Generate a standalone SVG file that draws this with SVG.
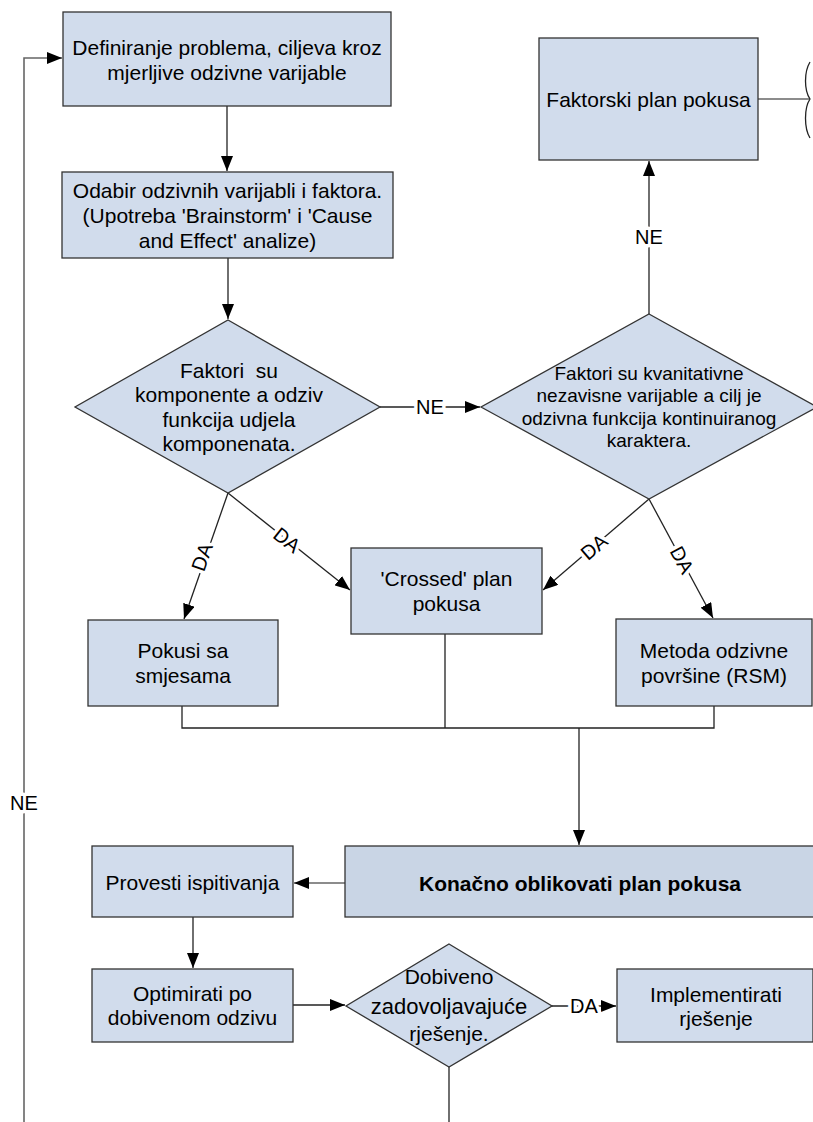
<svg xmlns="http://www.w3.org/2000/svg" width="813" height="1122" viewBox="0 0 813 1122">
<style>
.box{fill:#d1dcec;stroke:#333;stroke-width:1.3}
.dark{fill:#c9d5e5}
.t{font-family:"Liberation Sans",Arial,sans-serif;font-size:21px;fill:#000;text-anchor:middle}
.s{font-size:19px}
.b{font-weight:bold}
.c{fill:none;stroke:#222;stroke-width:1.3}
.g{stroke:#666;stroke-width:1.6}
.lbl{font-family:"Liberation Sans",Arial,sans-serif;font-size:20px;fill:#000;text-anchor:middle;stroke:#fff;stroke-width:7;paint-order:stroke;stroke-linejoin:round}
</style>
<defs>
<marker id="ar" markerUnits="userSpaceOnUse" markerWidth="15" markerHeight="12" viewBox="0 0 15 12" refX="15" refY="6" orient="auto">
<path d="M0,0 L15,6 L0,12 Z" fill="#000"/>
</marker>
</defs>
<g id="connectors">
<path class="c g" d="M24,1122 V58 H62" marker-end="url(#ar)"/>
<path class="c" d="M227,106 V171" marker-end="url(#ar)"/>
<path class="c" d="M228,258 V319" marker-end="url(#ar)"/>
<path class="c" d="M380,407 H480" marker-end="url(#ar)"/>
<path class="c" d="M649,314 V161" marker-end="url(#ar)"/>
<path class="c g" d="M758,99 H809"/>
<path class="c" d="M810,62 C804,72 804,90 810,99 C804,108 804,128 810,138" stroke-width="1"/>
<path class="c" d="M228,493 L184,619" marker-end="url(#ar)"/>
<path class="c" d="M228,493 L350,590" marker-end="url(#ar)"/>
<path class="c" d="M649,499 L543,590" marker-end="url(#ar)"/>
<path class="c" d="M649,499 L713,618" marker-end="url(#ar)"/>
<path class="c" d="M182,706 V728 H714 V706 M445,634 V728"/>
<path class="c" d="M579,728 V845" marker-end="url(#ar)"/>
<path class="c g" d="M345,883 H294" marker-end="url(#ar)"/>
<path class="c" d="M193,917 V968" marker-end="url(#ar)"/>
<path class="c" d="M293,1005 H345" marker-end="url(#ar)"/>
<path class="c" d="M552,1006 H616" marker-end="url(#ar)"/>
<path class="c" d="M449,1067 V1122"/>
<text class="lbl" x="24" y="810">NE</text>
<text class="lbl" x="430" y="414">NE</text>
<text class="lbl" x="649" y="244">NE</text>
<text class="lbl" x="584" y="1013">DA</text>
<text class="lbl" transform="translate(202,557) rotate(-70.6)" y="7">DA</text>
<text class="lbl" transform="translate(287,540) rotate(38.3)" y="7">DA</text>
<text class="lbl" transform="translate(594,547) rotate(-40.4)" y="7">DA</text>
<text class="lbl" transform="translate(682,560) rotate(61.7)" y="7">DA</text>
</g>
<g id="n1">
<rect class="box" x="63" y="12" width="328" height="94"/>
<text class="t" x="227" y="54.5">Definiranje problema, ciljeva kroz</text>
<text class="t" x="227" y="79.5">mjerljive odzivne varijable</text>
</g>
<g id="n2">
<rect class="box" x="62" y="172" width="331" height="86"/>
<text class="t" x="227.5" y="197.5">Odabir odzivnih varijabli i faktora.</text>
<text class="t" x="227.5" y="222.5">(Upotreba 'Brainstorm' i 'Cause</text>
<text class="t" x="227.5" y="247.5">and Effect' analize)</text>
</g>
<g id="n3">
<path class="box" d="M228,320 L380,407 L228,493 L75,407 Z"/>
<text class="t" x="229" y="377.5" xml:space="preserve">Faktori  su</text>
<text class="t" x="229" y="402">komponente a odziv</text>
<text class="t" x="229" y="426.5">funkcija udjela</text>
<text class="t" x="229" y="450.5">komponenata.</text>
</g>
<g id="n4">
<path class="box" d="M649,314 L817,407 L649,499 L481,407 Z"/>
<text class="t s" x="649" y="380">Faktori su kvanitativne</text>
<text class="t s" x="649" y="402">nezavisne varijable a cilj je</text>
<text class="t s" x="649" y="425">odzivna funkcija kontinuiranog</text>
<text class="t s" x="649" y="447">karaktera.</text>
</g>
<g id="n5">
<rect class="box" x="539" y="38" width="219" height="122"/>
<text class="t" x="648.5" y="106.5">Faktorski plan pokusa</text>
</g>
<g id="n6">
<rect class="box" x="88" y="620" width="190" height="86"/>
<text class="t" x="183" y="657.5">Pokusi sa</text>
<text class="t" x="183" y="682.5">smjesama</text>
</g>
<g id="n7">
<rect class="box" x="351" y="548" width="191" height="86"/>
<text class="t" x="446.5" y="585.5">'Crossed' plan</text>
<text class="t" x="446.5" y="610.5">pokusa</text>
</g>
<g id="n8">
<rect class="box" x="616" y="619" width="196" height="87"/>
<text class="t" x="714" y="657.5">Metoda odzivne</text>
<text class="t" x="714" y="682.5">površine (RSM)</text>
</g>
<g id="n9">
<rect class="box dark" x="345" y="846" width="470" height="71"/>
<text class="t b" x="580" y="890.5">Konačno oblikovati plan pokusa</text>
</g>
<g id="n10">
<rect class="box" x="92" y="846" width="201" height="71"/>
<text class="t" x="192.5" y="889.5">Provesti ispitivanja</text>
</g>
<g id="n11">
<rect class="box" x="92" y="969" width="201" height="73"/>
<text class="t" x="192.5" y="1000.5">Optimirati po</text>
<text class="t" x="192.5" y="1024.5">dobivenom odzivu</text>
</g>
<g id="n12">
<path class="box" d="M449,944 L552,1006 L449,1067 L346,1006 Z"/>
<text class="t" x="449" y="983.5">Dobiveno</text>
<text class="t" x="449" y="1013.5" style="font-size:22px">zadovoljavajuće</text>
<text class="t" x="449" y="1040.5">rješenje.</text>
</g>
<g id="n13">
<rect class="box" x="617" y="969" width="196" height="73"/>
<text class="t" x="716" y="1002">Implementirati</text>
<text class="t" x="716" y="1025.5">rješenje</text>
</g>
</svg>
